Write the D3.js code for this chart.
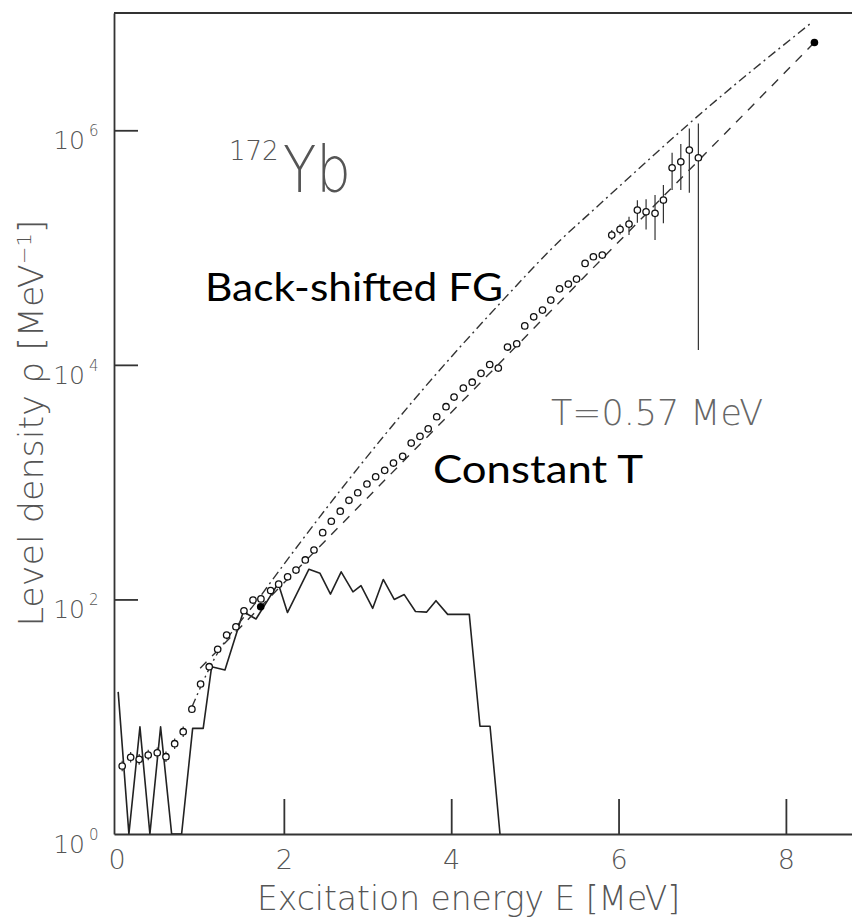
<!DOCTYPE html>
<html><head><meta charset="utf-8">
<script src="https://cdn.jsdelivr.net/npm/d3@7"></script>
<style>body{margin:0;background:#fff;} svg{display:block;}</style>
</head><body>
<svg id="chart" width="852" height="923"></svg>
<script>
// ---- data ----
const energies = [0.068,0.169,0.271,0.379,0.487,0.591,0.695,0.797,0.901,1.005,
  1.108,1.209,1.316,1.427,1.523,1.631,1.726,1.842,1.938,2.045,
  2.145,2.256,2.360,2.464,2.567,2.674,2.778,2.883,2.993,3.097,
  3.205,3.310,3.420,3.522,3.627,3.725,3.827,3.938,4.034,4.145,
  4.251,4.356,4.460,4.563,4.673,4.783,4.879,4.986,5.091,5.190,
  5.295,5.400,5.498,5.600,5.699,5.806,5.919,6.018,6.125,6.225,
  6.329,6.436,6.536,6.640,6.744,6.846,6.954];
const rho = [3.80,4.51,4.33,4.71,4.93,4.56,5.89,7.45,11.6,19.0,
  26.7,37.6,49.7,58.5,80.1,98.8,101,119,135,156,
  178,217,264,371,464,565,700,812,964,1112,
  1261,1455,1660,2154,2456,2847,3610,4397,5317,6343,
  7112,8466,10070,9397,14190,15130,21490,25700,29310,35650,
  44460,48870,53860,73280,83510,86340,127800,143000,158600,208700,
  201900,195700,254300,479000,538600,677600,583000];
// error bars in decades (up / down)
const errUp = [0.045,0.045,0.045,0.045,0.045,0.045,0.045,0.045,
  0.02,0.02,0.02,0.02,0.02,0.02,0.02,0.02,0.02,0.02,0.02,0.02,
  0.02,0.02,0.02,0.02,0.02,0.02,0.02,0.02,0.02,0.02,0.02,0.02,
  0.02,0.02,0.02,0.02,0.02,0.02,0.02,0.02,0.02,0.02,0.02,0.02,
  0.02,0.02,0.02,0.02,0.02,0.02,0.02,0.02,0.02,0.02,0.02,0.02,
  0.043,0.043,0.062,0.085,0.106,0.156,0.128,0.128,0.151,0.185,0.293];
const errDn = [0.045,0.045,0.045,0.045,0.045,0.045,0.045,0.045,
  0.02,0.02,0.02,0.02,0.02,0.02,0.02,0.02,0.02,0.02,0.02,0.02,
  0.02,0.02,0.02,0.02,0.02,0.02,0.02,0.02,0.02,0.02,0.02,0.02,
  0.02,0.02,0.02,0.02,0.02,0.02,0.02,0.02,0.02,0.02,0.02,0.02,
  0.02,0.02,0.02,0.02,0.02,0.02,0.02,0.02,0.02,0.02,0.02,0.02,
  0.043,0.043,0.094,0.108,0.150,0.228,0.199,0.190,0.241,0.364,1.64];
// Back-shifted Fermi gas curve
const fgE = [0.901,1.117,1.714,3.686,4.619,5.300,5.659,7.058,8.314];
const fgRho = [12.1,26.5,105,6470,35650,114800,196800,1545000,8360000];
// Constant temperature line
const ctE = [1.0, 8.341];
const ctRho = [25.9, 5610000];
// anchor points (filled)
const anchorE = [1.723, 8.341];
const anchorRho = [86.6, 5610000];
// known levels histogram
const histE = [0.020,0.148,0.280,0.399,0.527,0.659,0.778,0.910,1.036,1.137,1.296,1.515,1.667,1.933,2.043,2.300,2.432,2.557,2.685,2.826,2.922,3.062,3.188,3.319,3.439,3.573,3.707,3.818,3.958,4.216,4.344,4.464,4.583];
const histRho = [16.3,1,8.2,1,8.2,1,1,7.96,7.96,26.7,25.0,78.6,68.1,137,77.3,181,167,111,172,116,131,84,148,100,110,79,78,97.5,74.6,74.6,8.3,8.3,1];
const xTicks = [0,2,4,6,8];
const yTicks = [1,1e2,1e4,1e6];
const yTickExp = ["0","2","4","6"];

// ---- drawing ----
const svg = d3.select('#chart');
const x = d3.scaleLinear().domain([-0.03, 8.79]).range([114, 852]);
const y = d3.scaleLog().domain([1, 1e7]).range([834, 13]);
const axisColor = '#333';
const labelFont = '"DejaVu Sans", sans-serif';
const labelColor = '#555';

// frame top
svg.append('line').attr('x1', 114).attr('x2', 852).attr('y1', 13).attr('y2', 13)
  .attr('stroke', axisColor).attr('stroke-width', 2);

// x axis
const gx = svg.append('g').attr('transform', 'translate(0,834)')
  .call(d3.axisBottom(x).tickValues(xTicks).tickSize(-35).tickSizeOuter(0).tickPadding(16).tickFormat(d3.format('d')));
gx.select('.domain').attr('stroke', axisColor).attr('stroke-width', 2);
gx.selectAll('.tick line').attr('stroke', axisColor).attr('stroke-width', 1.8)
  .attr('opacity', d => d === 0 ? 0 : 1);
gx.selectAll('.tick text').attr('font-family', labelFont).attr('font-size', 27)
  .attr('font-weight', 200).attr('fill', labelColor);

// y axis
const gy = svg.append('g').attr('transform', 'translate(114,0)')
  .call(d3.axisLeft(y).tickValues(yTicks).tickSize(-24).tickSizeOuter(0).tickFormat(''));
gy.select('.domain').attr('stroke', axisColor).attr('stroke-width', 1.8);
gy.selectAll('.tick line').attr('stroke', axisColor).attr('stroke-width', 1.8)
  .attr('opacity', d => d === 1 ? 0 : 1);
yTicks.forEach((t, i) => {
  const ty = y(t);
  svg.append('text').attr('x', 85).attr('y', ty + 19).attr('text-anchor', 'end')
    .attr('font-family', labelFont).attr('font-size', 25).attr('font-weight', 200)
    .attr('fill', labelColor).text('10');
  svg.append('text').attr('x', 89).attr('y', ty + 6)
    .attr('font-family', labelFont).attr('font-size', 15).attr('font-weight', 200)
    .attr('fill', labelColor).text(yTickExp[i]);
});

// axis titles
svg.append('text').attr('x', 257).attr('y', 910)
  .attr('font-family', labelFont).attr('font-size', 33).attr('font-weight', 200)
  .attr('fill', labelColor).attr('textLength', 423).attr('lengthAdjust', 'spacingAndGlyphs')
  .text('Excitation energy E [MeV]');
const yt = svg.append('text').attr('transform', 'translate(43,423) rotate(-90)')
  .attr('text-anchor', 'middle')
  .attr('font-family', labelFont).attr('font-size', 33).attr('font-weight', 200)
  .attr('fill', labelColor).attr('textLength', 407).attr('lengthAdjust', 'spacingAndGlyphs');
yt.append('tspan').text('Level density ρ [MeV');
yt.append('tspan').attr('dy', -12).attr('font-size', 20).text('−1');
yt.append('tspan').attr('dy', 12).text(']');

// clip for plot area
svg.append('clipPath').attr('id', 'plotclip').append('rect')
  .attr('x', 114).attr('y', 13).attr('width', 740).attr('height', 821);
const plot = svg.append('g').attr('clip-path', 'url(#plotclip)');

// histogram of known levels
plot.append('path')
  .attr('d', d3.line().x(i => x(histE[i])).y(i => y(histRho[i]))(d3.range(histE.length)))
  .attr('fill', 'none').attr('stroke', '#222').attr('stroke-width', 1.6)
  .attr('stroke-linejoin', 'round');

// back-shifted FG (dash-dot)
plot.append('path')
  .attr('d', d3.line().curve(d3.curveMonotoneX).x(i => x(fgE[i])).y(i => y(fgRho[i]))(d3.range(fgE.length)))
  .attr('fill', 'none').attr('stroke', '#333').attr('stroke-width', 1.4)
  .attr('stroke-dasharray', '9,4,2,4');

// constant temperature (dashed)
plot.append('path')
  .attr('d', d3.line().x(i => x(ctE[i])).y(i => y(ctRho[i]))(d3.range(ctE.length)))
  .attr('fill', 'none').attr('stroke', '#333').attr('stroke-width', 1.4)
  .attr('stroke-dasharray', '9,8');

// error bars
plot.selectAll('line.err').data(d3.range(energies.length)).enter().append('line')
  .attr('class', 'err')
  .attr('x1', i => x(energies[i])).attr('x2', i => x(energies[i]))
  .attr('y1', i => y(rho[i] * Math.pow(10, errUp[i])))
  .attr('y2', i => y(Math.max(1, rho[i] / Math.pow(10, errDn[i]))))
  .attr('stroke', '#333').attr('stroke-width', 1.2);

// data points
plot.selectAll('circle.pt').data(d3.range(energies.length)).enter().append('circle')
  .attr('class', 'pt')
  .attr('cx', i => x(energies[i])).attr('cy', i => y(rho[i])).attr('r', 3.2)
  .attr('fill', '#fff').attr('stroke', '#111').attr('stroke-width', 1.3);

// anchor points
plot.selectAll('circle.anc').data(d3.range(anchorE.length)).enter().append('circle')
  .attr('class', 'anc')
  .attr('cx', i => x(anchorE[i])).attr('cy', i => y(anchorRho[i])).attr('r', 3.8)
  .attr('fill', '#000');

// annotations
svg.append('text').attr('x', 229).attr('y', 160)
  .attr('font-family', labelFont).attr('font-size', 26).attr('font-weight', 200)
  .attr('fill', labelColor).text('172');
svg.append('text').attr('x', 283).attr('y', 192)
  .attr('font-family', labelFont).attr('font-size', 64).attr('font-weight', 200)
  .attr('fill', labelColor).attr('textLength', 68).attr('lengthAdjust', 'spacingAndGlyphs').text('Yb');
svg.append('text').attr('x', 551).attr('y', 425)
  .attr('font-family', labelFont).attr('font-size', 36).attr('font-weight', 200)
  .attr('fill', '#666').attr('textLength', 212).attr('lengthAdjust', 'spacingAndGlyphs').text('T=0.57 MeV');
svg.append('text').attr('x', 205).attr('y', 301)
  .attr('font-family', 'Lato, "Open Sans", sans-serif').attr('font-size', 39)
  .attr('fill', '#000').attr('textLength', 298).attr('lengthAdjust', 'spacingAndGlyphs').text('Back-shifted FG');
svg.append('text').attr('x', 433).attr('y', 483)
  .attr('font-family', 'Lato, "Open Sans", sans-serif').attr('font-size', 39)
  .attr('fill', '#000').attr('textLength', 210).attr('lengthAdjust', 'spacingAndGlyphs').text('Constant T');
</script>
</body></html>
